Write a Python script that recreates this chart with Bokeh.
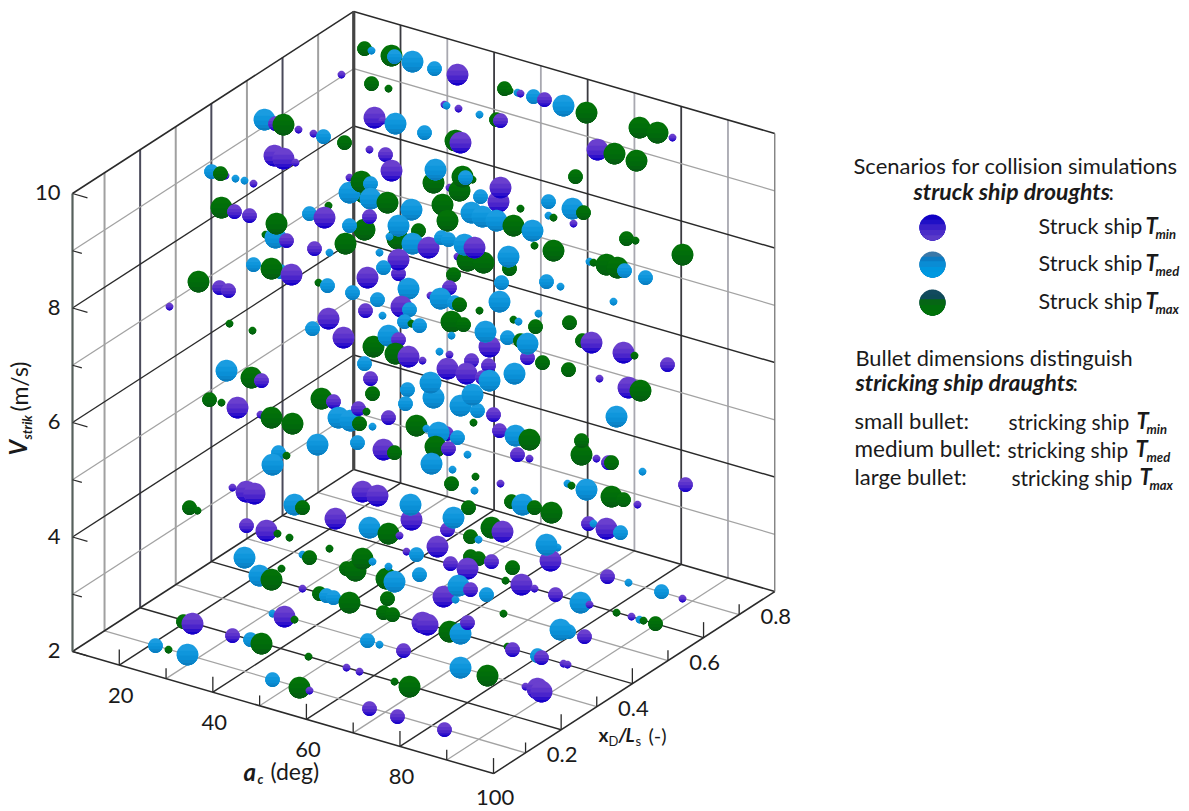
import math
import numpy as np
from bokeh.embed import file_html
from bokeh.models import ColumnDataSource, Label, Range1d
from bokeh.plotting import figure
from bokeh.resources import INLINE

# ---- axis values -------------------------------------------------------
ALPHA_MIN, ALPHA_MAX = 10, 100
XD_MIN, XD_MAX = 0.01, 0.8
V_MIN, V_MAX = 2, 10
alpha_major = [20, 40, 60, 80, 100]
alpha_minor = [30, 50, 70, 90]
xd_major = [0.2, 0.4, 0.6]
xd_minor = [0.1, 0.3, 0.5, 0.7]
v_major = [2, 4, 6, 8, 10]
v_minor = [3, 5, 7, 9]
alpha_labels = ["20", "40", "60", "80", "100"]
xd_labels = ["0.2", "0.4", "0.6", "0.8"]
v_labels = ["2", "4", "6", "8", "10"]

# ---- bullets, as projected abscissa / ordinate ----
# listed back to front; P = struck T_min, B = struck T_med, G = struck T_max
# S, M, L = stricking ship T_min, T_med, T_max
bullet_u = [
    364, 371, 391, 394, 412, 434, 457, 341, 371, 388,
    504, 509, 517, 520, 533, 544, 563, 586, 444, 446,
    458, 479, 496, 500, 374, 382, 395, 424, 455, 460,
    639, 657, 672, 597, 614, 636, 264, 275, 283, 298,
    313, 323, 344, 369, 385, 391, 274, 283, 295, 211,
    225, 220, 235, 244, 253, 575, 349, 362, 349, 361,
    370, 370, 387, 433, 435, 449, 459, 462, 472, 465,
    498, 500, 480, 221, 234, 249, 328, 309, 324, 265,
    275, 276, 286, 364, 349, 369, 345, 314, 329, 379,
    442, 447, 471, 482, 496, 513, 532, 397, 389, 411,
    398, 418, 412, 428, 441, 448, 457, 467, 464, 483,
    474, 509, 508, 548, 520, 572, 583, 548, 553, 573,
    626, 635, 682, 534, 553, 589, 593, 606, 617, 624,
    645, 398, 398, 383, 253, 280, 271, 291, 198, 219,
    228, 169, 318, 327, 352, 377, 367, 453, 501, 449,
    430, 440, 454, 459, 408, 401, 409, 499, 479, 546,
    560, 613, 365, 382, 373, 388, 398, 395, 408, 422,
    439, 449, 404, 411, 419, 451, 463, 451, 489, 485,
    513, 518, 538, 535, 569, 507, 520, 527, 527, 542,
    568, 582, 591, 623, 634, 667, 599, 328, 312, 343,
    229, 252, 364, 370, 372, 226, 251, 261, 209, 221,
    237, 260, 271, 292, 447, 471, 466, 488, 482, 489,
    514, 628, 640, 433, 430, 407, 405, 460, 477, 472,
    388, 493, 473, 616, 321, 333, 338, 350, 358, 359,
    366, 372, 317, 357, 383, 394, 416, 426, 446, 438,
    457, 435, 448, 467, 499, 515, 529, 581, 581, 596,
    608, 611, 517, 529, 278, 286, 272, 431, 452, 475,
    642, 685, 451, 474, 500, 567, 571, 586, 611, 623,
    637, 232, 246, 254, 362, 377, 294, 302, 189, 197,
    511, 522, 534, 551, 411, 410, 468, 447, 453, 335,
    369, 388, 246, 266, 277, 289, 588, 593, 606, 620,
    470, 478, 491, 502, 399, 406, 416, 437, 550, 557,
    546, 512, 244, 302, 309, 329, 346, 355, 362, 372,
    281, 259, 271, 302, 319, 326, 333, 349, 386, 394,
    387, 383, 392, 470, 478, 491, 467, 450, 388, 419,
    505, 521, 534, 555, 580, 589, 607, 628, 661, 682,
    443, 455, 458, 470, 486, 272, 284, 294, 503, 616,
    631, 639, 643, 655, 422, 427, 449, 460, 467, 568,
    560, 584, 507, 512, 537, 541, 563, 567, 403, 367,
    379, 183, 192, 232, 250, 261, 155, 168, 187, 308,
    346, 359, 272, 299, 309, 369, 460, 487, 394, 409,
    525, 537, 541, 397, 444,
]
bullet_w = [
    48, 50, 55, 56, 61, 68, 74, 74, 83, 88,
    88, 90, 92, 93, 96, 99, 105, 112, 104, 105,
    108, 114, 119, 120, 117, 120, 123, 132, 140, 142,
    127, 132, 137, 149, 153, 160, 119, 123, 124, 129,
    133, 136, 142, 149, 154, 170, 155, 158, 162, 171,
    175, 173, 178, 180, 183, 176, 177, 195, 192, 181,
    183, 198, 202, 182, 169, 187, 190, 176, 179, 177,
    201, 187, 196, 207, 211, 215, 205, 213, 217, 234,
    237, 223, 240, 229, 225, 216, 243, 248, 252, 252,
    204, 220, 212, 216, 220, 225, 230, 238, 236, 209,
    225, 230, 243, 247, 237, 239, 256, 260, 244, 262,
    247, 268, 256, 201, 208, 208, 212, 215, 217, 223,
    238, 240, 254, 245, 250, 261, 262, 264, 267, 270,
    277, 273, 259, 267, 264, 271, 268, 274, 281, 287,
    290, 306, 282, 285, 292, 299, 277, 274, 282, 287,
    295, 298, 302, 304, 288, 306, 309, 301, 310, 281,
    286, 301, 310, 315, 346, 335, 339, 353, 356, 360,
    351, 354, 321, 323, 325, 321, 324, 335, 346, 331,
    319, 321, 313, 326, 322, 337, 340, 357, 343, 362,
    369, 340, 342, 352, 355, 364, 378, 318, 328, 337,
    323, 330, 363, 378, 393, 370, 377, 380, 399, 402,
    407, 414, 417, 423, 368, 360, 373, 365, 377, 380,
    373, 387, 390, 397, 382, 389, 403, 405, 410, 394,
    417, 414, 422, 416, 398, 401, 417, 420, 408, 423,
    411, 426, 444, 442, 449, 452, 425, 428, 433, 432,
    437, 446, 448, 454, 430, 435, 439, 454, 440, 458,
    462, 462, 454, 458, 452, 455, 464, 463, 469, 476,
    471, 484, 483, 490, 483, 483, 485, 489, 496, 499,
    504, 487, 491, 493, 491, 495, 504, 507, 507, 510,
    501, 504, 507, 512, 519, 504, 507, 529, 517, 518,
    527, 533, 525, 530, 533, 537, 523, 523, 528, 532,
    536, 539, 527, 531, 535, 551, 554, 546, 560, 547,
    544, 567, 557, 554, 557, 548, 568, 570, 558, 561,
    568, 575, 579, 588, 593, 595, 597, 602, 578, 581,
    598, 612, 614, 556, 558, 561, 568, 563, 566, 574,
    580, 584, 588, 594, 602, 604, 576, 582, 591, 598,
    596, 599, 585, 589, 594, 613, 616, 619, 613, 612,
    616, 619, 620, 623, 622, 624, 631, 633, 622, 631,
    629, 636, 646, 649, 655, 657, 663, 664, 650, 640,
    644, 621, 623, 635, 639, 643, 645, 649, 654, 656,
    667, 671, 679, 687, 690, 708, 667, 675, 681, 686,
    686, 688, 691, 716, 729,
]
struck_draught = list(
    "GBGBBBPPGG" "GGBPBPBGPB" "PBGPPPBBGP" "GGPPGGBPGP"
    "PBGPPPPPPB" "PGBBPGPGBG" "BBGGBPGGGB" "PPBGPPGBPG"
    "BGPGBPGPBB" "GGBBBGBGBB" "BGBPBBPGBG" "PGBBGBGBGP"
    "GGGGGBGGGB" "BPPBBBGPGP" "PPGBBBPGBP" "PBBGBPBBGB"
    "BBPBGBPGPP" "BPBGBGGBPB" "GBBGGBGPBG" "GGPPGPPPBP"
    "GGBPGBGPGG" "PPGGPPPPPB" "BPGBBBBBBB" "PPGBGPBBPG"
    "GBBBPGGBPB" "BGPBPBGGGP" "PGPPBGBBBG" "BPGBPBGBGG"
    "PPPPPPBGGG" "GBGGPBGPBP" "BGPPGGPBPB" "GBGPPPBPPB"
    "BGBBGGGGGB" "GBGPGBBGGB" "GGGGGPPPBB" "GPPPBPPBBP"
    "PBBPBBPGGG" "PBGGPPGBPB" "BPGPBPPPPB" "BGPPBGBGBG"
    "PPBGPPBGGG" "PPPPP"
)
strike_draught = list(
    "MSLMLMLSMS" "MSSSMMLLSS" "SSMMLSLMLL" "LLSLLLLMLS"
    "SMMSMLLLSM" "SMSSSMSMLL" "MLLLLSLLSM" "LLMLMMSMLS"
    "LLMLMMLMSS" "LLLLLLLLSL" "LMLLMMSLLL" "LMLMSLMSSS"
    "MSLSLSSLLM" "MMLMMMLLLM" "MSSMMMLMMM" "SLMMLLMLSM"
    "SSMSLLMLLS" "SSMSMLMSLL" "SSSMMMMMLM" "MMLLSMSLML"
    "SSMMMLLMMS" "LSLLLMLMML" "LLLLLMMLML" "MMSLLMLLMM"
    "SSLMLMLSML" "MLMSMLLLMS" "MMMSMSLLSS" "SMMSSSSLLM"
    "SSLLLLLMMS" "MLMLLLMMLL" "LLMLSSMSLM" "MSLLSSMLLS"
    "LMLSMSMLLS" "SLLSMMMLLL" "MMMMMMLMSM" "SLSMLSMSMS"
    "LSLMMSLSSS" "SSSMLLLLMM" "LMSMMMSSMM" "SMLMMLMSLS"
    "SSMLSMLLSL" "SLLMM"
)

assert len(bullet_u) == len(bullet_w) == len(struck_draught) == len(strike_draught)


# ---- orthographic projection of the 3-D box --------------------------------
def project(a, xd, v):
    x = 72 + (a - ALPHA_MIN) * 4.678 + (xd - XD_MIN) * 356.0
    y = 651 + (a - ALPHA_MIN) * 1.356 - (xd - XD_MIN) * 230.4 - (v - V_MIN) * 57.25
    return x, y


p = figure(width=1189, height=811, output_backend="svg", toolbar_location=None,
           x_range=Range1d(0, 1189), y_range=Range1d(811, 0), min_border=0)
p.axis.visible = False
p.grid.visible = False
p.outline_line_color = None
p.background_fill_color = "white"

BLACK, GREY = "#2a2a2a", "#a3a3a3"


def seg(points_a, points_b, color, width):
    xs, ys = [], []
    for a, b in zip(points_a, points_b):
        xa, ya = project(*a)
        xb, yb = project(*b)
        xs.append([xa, xb])
        ys.append([ya, yb])
    p.multi_line(xs, ys, line_color=color, line_width=width)


for vals, col, w in ((alpha_minor, GREY, 1.3), (alpha_major[:-1], BLACK, 1.4)):
    # floor lines along x_D, and verticals on the back wall
    seg([(a, XD_MIN, V_MIN) for a in vals], [(a, XD_MAX, V_MIN) for a in vals], col, w)
    seg([(a, XD_MAX, V_MIN) for a in vals], [(a, XD_MAX, V_MAX) for a in vals],
        "#a8a8b0" if col == GREY else "#3a3a40", 1.8)
for vals, col, w in ((xd_minor, GREY, 1.3), (xd_major, BLACK, 1.4)):
    # floor lines along alpha, and verticals on the left wall
    seg([(ALPHA_MIN, x, V_MIN) for x in vals], [(ALPHA_MAX, x, V_MIN) for x in vals], col, w)
    seg([(ALPHA_MIN, x, V_MIN) for x in vals], [(ALPHA_MIN, x, V_MAX) for x in vals],
        "#a0a0a0" if col == GREY else "#4a4a5a", 2.0)
for vals, col, w in ((v_minor, GREY, 1.3), (v_major[1:-1], BLACK, 1.4)):
    seg([(ALPHA_MIN, XD_MIN, v) for v in vals], [(ALPHA_MIN, XD_MAX, v) for v in vals], col, w)
    seg([(ALPHA_MIN, XD_MAX, v) for v in vals], [(ALPHA_MAX, XD_MAX, v) for v in vals], col, w)

# box outline
seg([(ALPHA_MIN, XD_MIN, V_MIN), (ALPHA_MAX, XD_MIN, V_MIN), (ALPHA_MIN, XD_MIN, V_MAX),
     (ALPHA_MIN, XD_MAX, V_MAX), (ALPHA_MIN, XD_MIN, V_MIN), (ALPHA_MIN, XD_MAX, V_MIN)],
    [(ALPHA_MAX, XD_MIN, V_MIN), (ALPHA_MAX, XD_MAX, V_MIN), (ALPHA_MIN, XD_MAX, V_MAX),
     (ALPHA_MAX, XD_MAX, V_MAX), (ALPHA_MIN, XD_MAX, V_MIN), (ALPHA_MAX, XD_MAX, V_MIN)],
    BLACK, 1.5)
seg([(ALPHA_MIN, XD_MIN, V_MIN)], [(ALPHA_MIN, XD_MIN, V_MAX)], "#56605c", 2.2)
seg([(ALPHA_MIN, XD_MAX, V_MIN)], [(ALPHA_MIN, XD_MAX, V_MAX)], "#444444", 3.2)
seg([(ALPHA_MAX, XD_MAX, V_MIN)], [(ALPHA_MAX, XD_MAX, V_MAX)], "#777777", 1.3)

# ticks: vertical on the floor edges, along alpha on the V axis
DV_MAJ, DV_MIN = 0.27, 0.18
DA_MAJ, DA_MIN = 3.2, 2.0
for vals, dv in ((alpha_major, DV_MAJ), (alpha_minor, DV_MIN)):
    seg([(a, XD_MIN, V_MIN) for a in vals], [(a, XD_MIN, V_MIN + dv) for a in vals], BLACK, 1.3)
for vals, dv in ((xd_major, DV_MAJ), (xd_minor, DV_MIN)):
    seg([(ALPHA_MAX, x, V_MIN) for x in vals], [(ALPHA_MAX, x, V_MIN + dv) for x in vals], BLACK, 1.3)
for vals, da in ((v_major, DA_MAJ), (v_minor, DA_MIN)):
    seg([(ALPHA_MIN, XD_MIN, v) for v in vals], [(ALPHA_MIN + da, XD_MIN, v) for v in vals], BLACK, 1.3)

# ---- bullets as banded discs ---------------------------------------------
DIAM = {"S": 7.5, "M": 14.5, "L": 21.5}
BAND_CUTS = [-1.0, -0.35, 0.1, 0.5, 0.78]
BAND_COL = {
    "P": ["#6a3fce", "#5c33cc", "#4a24cb", "#2e10cb", "#1400c9"],
    "B": ["#1a9ce0", "#0f96dc", "#0a8fd6", "#0a86cb", "#0a7cbe"],
    "G": ["#037208", "#016e0a", "#01690c", "#03620f", "#055a12"],
}


def segment_below(cx, cy, r, k):
    t0 = math.asin(k)
    n = max(8, int(2 + r * 1.6 * (math.pi - 2 * t0) / math.pi * 2))
    t = np.linspace(t0, math.pi - t0, n)
    return list(cx + r * np.cos(t)), list(cy + r * np.sin(t))


def disc_patches(us, ws, rs, keys, palette, cuts):
    xs, ys, cs = [], [], []
    for u, w, r, key in zip(us, ws, rs, keys):
        for k, c in zip(cuts, palette[key]):
            sx, sy = segment_below(u, w, r, k)
            xs.append(sx)
            ys.append(sy)
            cs.append(c)
    return xs, ys, cs


xs, ys, cs = disc_patches(bullet_u, bullet_w, [DIAM[s] / 2 for s in strike_draught],
                          struck_draught, BAND_COL, BAND_CUTS)
p.patches("xs", "ys", source=ColumnDataSource(dict(xs=xs, ys=ys, c=cs)),
          fill_color="c", line_color=None)

# ---- legend discs ---------------------------------------------------------
legend_keys = ["P", "B", "G"]
legend_u = [932, 932, 932]
legend_w = [227, 264, 302]
LEG_CUTS = [-1.0, -0.6, -0.25, 0.2, 0.6]
LEG_COL = {
    "P": ["#1000c4", "#2010c6", "#3a20c8", "#4a2cc8", "#5a3ac8"],
    "B": ["#3a78a8", "#0a7cc4", "#0a8cd4", "#0096de", "#0098e0"],
    "G": ["#124a5e", "#0e4a58", "#066614", "#006e0c", "#007208"],
}
xs, ys, cs = disc_patches(legend_u, legend_w, [13, 13, 13], legend_keys, LEG_COL, LEG_CUTS)
p.patches("xs", "ys", source=ColumnDataSource(dict(xs=xs, ys=ys, c=cs)),
          fill_color="c", line_color=None)

# ---- texts ----------------------------------------------------------------
FONT = "Lato"
MAIN = "21.5px"
SUB = "13px"
BI = "bold italic"


def put(x, y, text, size=MAIN, style="normal", angle=0.0, align="left", baseline="alphabetic", color="#1a1a1a"):
    if baseline == "alphabetic":
        # the page draws such a label lower than asked, by about a third of its size
        shift = 0.35 * float(size[:-2])
        if angle:
            x -= shift
        else:
            y -= shift
    p.add_layout(Label(x=x, y=y, text=text, text_font=FONT, text_font_size=size,
                       text_font_style=style, angle=angle, text_align=align,
                       text_baseline=baseline, text_color=color))


for a, t in zip(alpha_major, alpha_labels):
    x, y = project(a, XD_MIN, V_MIN)
    put(x + 1.5, min(y + 30, 797), t, size="22px", align="center", baseline="middle")
for xd, t in zip(xd_major + [0.8], xd_labels):
    x, y = project(ALPHA_MAX, xd, V_MIN)
    put(x + 1, y + 25, t, size="22px", align="center", baseline="middle")
for v, t in zip(v_major, v_labels):
    x, y = project(ALPHA_MIN, XD_MIN, v)
    put(x - 12, y - 1, t, size="22px", align="right", baseline="middle")

put(243, 779, "a", style=BI, size="24px")
put(257, 783, "c", style=BI, size=SUB)
put(270, 779, "(deg)", size="23px")
put(598, 741, "x", style="bold", size="19px")
put(608, 745, "D", size=SUB)
put(618, 741, "/", style=BI, size="19px")
put(625, 741, "L", style=BI, size="19px")
put(635, 745, "s", size=SUB)
put(648, 741, "(-)", size="20px")
put(25, 455, "V", style=BI, size="24px", angle=math.pi / 2)
put(31, 439, "strik", style=BI, size=SUB, angle=math.pi / 2)
put(27, 411, "(m/s)", size="23px", angle=math.pi / 2)

put(853, 173, "Scenarios for collision simulations", size="22px")
put(913, 199, "struck ship droughts", style=BI, size="23px")
put(1108, 199, ":")
for yb, sub in zip((233, 270, 308), ("min", "med", "max")):
    put(1038, yb, "Struck ship")
    put(1145, yb, "T", style=BI, size="22px")
    put(1155, yb + 5, sub, style=BI, size=SUB)

put(855, 365, "Bullet dimensions distinguish", size="21.8px")
put(855, 390, "stricking ship draughts", style=BI, size="23px")
put(1072, 390, ":")
put(854, 428, "small bullet:", size="22px")
put(1008, 428, "stricking ship", size="21px")
put(1136, 428, "T", style=BI, size="22px")
put(1146, 433, "min", style=BI, size=SUB)
put(854, 456, "medium bullet:", size="22.5px")
put(1007, 456, "stricking ship", size="21px")
put(1135, 456, "T", style=BI, size="22px")
put(1146, 461, "med", style=BI, size=SUB)
put(854, 484, "large bullet:", size="22px")
put(1011, 484, "stricking ship", size="21px")
put(1139, 484, "T", style=BI, size="22px")
put(1149, 489, "max", style=BI, size=SUB)

open("out.html", "w").write(file_html(p, INLINE))
